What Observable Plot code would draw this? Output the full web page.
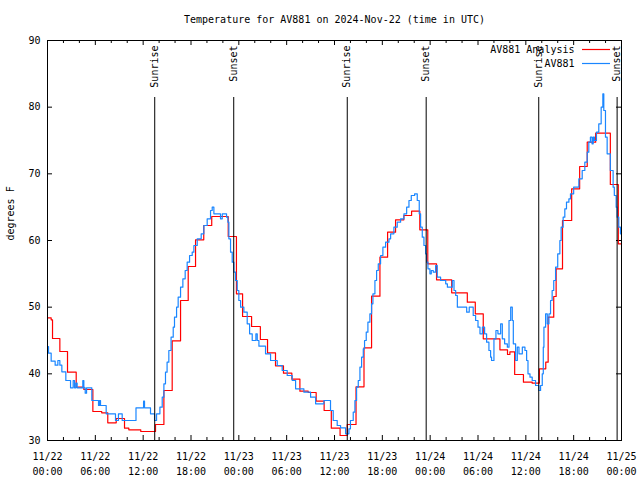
<!DOCTYPE html>
<html><head><meta charset="utf-8">
<script src="https://cdn.jsdelivr.net/npm/d3@7"></script>
<script src="https://cdn.jsdelivr.net/npm/@observablehq/plot@0.6"></script>
<style>body{margin:0;background:#fff}#chart svg{display:block}</style>
</head><body><div id="chart"></div>
<script>
const title = "Temperature for AV881 on 2024-Nov-22 (time in UTC)";
const yLabel = "degrees F";
const seriesNames = ["AV881 Analysis", "AV881"];
const seriesColors = ["#ff0000", "#1a86ff"];
const startUTC = Date.UTC(2024, 10, 22);

// [hours since 11/22 00:00 UTC, temperature F]
const analysisSteps = [
[0,48.4],[0.46,48.1],[0.63,45.3],[1.55,43.35],[2.51,40.25],[3.6,38.0],[4.56,37.65],[5.69,34.35],
[6.8,34.15],[7.56,32.65],[8.62,33.3],[9.66,31.85],[10.2,31.6],[11.7,31.35],[13.55,32.4],[14.6,37.5],
[15.64,44.95],[16.69,51.0],[17.65,56.1],[18.57,60.1],[19.6,62.25],[20.6,63.6],[22.67,60.6],[23.7,52.0],
[24.47,48.6],[25.6,47.1],[26.7,45.15],[27.6,43.15],[28.6,41.2],[29.6,40.1],[30.65,39.2],[31.66,37.4],
[32.7,37.2],[33.7,35.9],[34.7,34.5],[35.6,31.85],[36.7,30.75],[37.6,32.4],[38.7,38.05],[39.7,43.9],
[40.65,51.65],[41.7,57.5],[42.66,61.25],[43.66,63.1],[44.7,63.75],[45.67,64.4],[46.7,61.6],[47.7,56.5],
[48.8,54.1],[50.7,52.15],[52.66,50.75],[53.66,49.0],[54.66,45.25],[56.75,43.6],[57.7,42.9],[58.0,43.3],
[58.6,39.9],[59.7,38.75],[60.8,38.6],[61.7,40.75],[62.5,41.75],[62.8,48.5],[63.5,51.6],[63.8,55.75],
[64.6,63.0],[65.75,67.75],[66.75,71.1],[67.7,74.75],[68.76,76.1],[70.6,68.4],[71.6,59.5],[72,59.5]
];
const observedSteps = [
[0,44.1],[0.13,43.1],[0.46,41.9],[0.96,41.3],[1.3,42.0],[1.55,41.3],[1.8,40.3],[2.3,39.0],[2.89,37.9],
[3.22,39.0],[3.39,37.9],[3.56,38.6],[3.72,37.9],[4.43,39.0],[4.56,37.9],[4.73,37.1],[4.9,37.9],[5.56,36.0],
[6.4,35.25],[6.52,36.0],[6.65,35.25],[7.36,34.0],[8.53,33.0],[8.9,34.0],[9.37,33.0],[11.1,34.9],[12.05,35.9],
[12.17,34.9],[12.92,34.0],[13.43,33.0],[13.68,34.0],[14.1,35.0],[14.39,36.5],[14.6,38.5],[14.8,40.25],
[15.0,41.75],[15.22,43.5],[15.5,45.5],[15.77,47.0],[15.93,48.5],[16.19,50.0],[16.39,51.5],[16.69,53.0],
[16.98,54.25],[17.27,55.5],[17.52,56.75],[17.82,57.75],[18.15,58.25],[18.36,59.25],[18.78,60.25],[19.28,61.0],
[19.61,62.25],[20.03,63.25],[20.45,64.5],[20.66,65.0],[20.87,64.0],[21.7,63.25],[21.92,64.0],[22.46,63.5],
[22.63,62.75],[22.75,60.25],[22.96,58.25],[23.17,56.75],[23.38,55.25],[23.59,54.0],[23.8,52.5],[24.0,51.0],
[24.22,50.0],[24.63,49.25],[25.05,47.5],[25.35,46.0],[25.68,45.0],[26.14,46.0],[26.31,45.0],[26.52,44.15],
[27.35,43.0],[27.98,42.0],[28.82,41.25],[29.44,40.5],[30.07,39.75],[30.7,39.0],[31.12,37.75],[32.16,37.25],
[33.0,36.5],[33.63,35.5],[34.67,36.0],[35.5,34.5],[35.84,33.0],[36.34,32.25],[36.76,31.9],[37.39,31.0],
[37.81,31.75],[38.0,33.0],[38.35,34.25],[38.56,36.0],[38.77,38.0],[38.98,39.0],[39.19,41.0],[39.4,42.5],
[39.61,43.75],[39.77,45.0],[39.98,46.25],[40.19,47.75],[40.44,49.0],[40.65,50.5],[40.82,52.0],[41.07,54.0],
[41.28,55.5],[41.49,56.5],[41.78,57.75],[42.07,59.0],[42.41,59.75],[42.83,60.25],[43.04,61.0],[43.45,62.0],
[43.87,62.75],[44.29,63.25],[44.71,64.0],[45.05,65.0],[45.34,66.0],[45.63,66.75],[46.05,67.0],[46.38,66.0],
[46.63,64.0],[46.8,62.0],[47.01,60.5],[47.22,59.25],[47.43,58.0],[47.55,56.75],[47.72,55.75],[47.97,55.0],
[48.14,55.5],[48.39,55.25],[48.68,56.25],[48.89,54.5],[49.31,54.0],[49.95,53.5],[50.16,53.0],[50.78,54.0],
[50.99,52.5],[51.2,51.75],[51.41,50.0],[52.58,49.25],[52.9,50.0],[53.4,48.75],[53.7,48.0],[54.0,47.0],
[54.25,46.0],[54.55,47.0],[54.83,46.0],[55.08,44.75],[55.37,43.5],[55.58,42.5],[55.7,42.0],[56.0,45.25],
[56.25,46.5],[56.5,46.0],[56.84,47.5],[57.05,45.25],[57.34,44.5],[57.68,44.0],[57.89,48.0],[58.1,50.0],
[58.3,48.0],[58.43,44.5],[58.72,42.0],[58.93,44.0],[59.14,43.0],[59.56,44.0],[59.89,43.5],[60.1,42.0],
[60.27,40.0],[60.52,39.5],[60.8,39.0],[61.22,38.25],[61.64,37.5],[61.85,38.25],[62.06,40.0],[62.19,44.0],
[62.27,47.0],[62.48,49.0],[62.69,47.5],[62.9,49.0],[63.1,51.0],[63.3,52.5],[63.5,54.0],[63.73,56.0],
[64.0,58.0],[64.27,60.0],[64.43,62.0],[64.68,63.5],[64.89,64.75],[65.1,65.75],[65.4,66.25],[65.6,67.0],
[66.0,68.0],[66.65,69.25],[67.07,70.5],[67.4,71.75],[67.7,73.25],[67.9,74.75],[68.1,75.5],[68.3,74.5],
[68.45,75.5],[68.6,75.0],[68.86,76.25],[69.15,77.5],[69.45,80.0],[69.66,82.0],[69.78,79.5],[69.99,75.5],
[70.2,73.0],[70.6,70.5],[70.95,68.0],[71.1,66.75],[71.33,65.0],[71.45,63.5],[71.66,62.0],[71.87,61.0],[72,61.0]
];
const sunHours = [13.45, 23.36, 37.6, 47.5, 61.62, 71.45];
const sunLabels = ["Sunrise", "Sunset", "Sunrise", "Sunset", "Sunrise", "Sunset"];
const majorTickHours = [0, 6, 12, 18, 24, 30, 36, 42, 48, 54, 60, 66, 72];
const minorTickHours = [2, 4, 8, 10, 14, 16, 20, 22, 26, 28, 32, 34, 38, 40, 44, 46, 50, 52, 56, 58, 62, 64, 68, 70];
const yTicks = [30, 40, 50, 60, 70, 80, 90];

const toDate = h => new Date(startUTC + h * 3600e3);
const W = 640, H = 480, mL = 47, mR = 19, mT = 40, mB = 40;
const fw = W - mL - mR, fh = H - mT - mB;
const fmt = d3.utcFormat("%m/%d\n%H:%M");

const analysis = analysisSteps.map(([h, t]) => ({date: toDate(h), temp: t}));
const observed = observedSteps.map(([h, t]) => ({date: toDate(h), temp: t}));
const sun = sunHours.map((h, i) => ({date: toDate(h), label: sunLabels[i]}));
const major = majorTickHours.map(toDate);
const minor = minorTickHours.map(toDate);

const plot = Plot.plot({
  width: W, height: H, marginLeft: mL, marginRight: mR, marginTop: mT, marginBottom: mB,
  style: {fontFamily: "'DejaVu Sans Mono', monospace", fontSize: "10px", background: "white", color: "black"},
  x: {type: "utc", domain: [toDate(0), toDate(72)], axis: null},
  y: {domain: [30, 90], axis: null},
  marks: [
    Plot.ruleX(minor, {x: d => d, insetTop: fh - 3, stroke: "black"}),
    Plot.ruleX(minor, {x: d => d, insetBottom: fh - 3, stroke: "black"}),
    Plot.ruleX(major, {x: d => d, insetTop: fh - 5, stroke: "black"}),
    Plot.ruleX(major, {x: d => d, insetBottom: fh - 5, stroke: "black"}),
    Plot.ruleY(yTicks, {y: d => d, insetRight: fw - 5, stroke: "black"}),
    Plot.ruleY(yTicks, {y: d => d, insetLeft: fw - 5, stroke: "black"}),
    Plot.lineY(analysis, {x: "date", y: "temp", curve: "step-after", stroke: seriesColors[0], strokeWidth: 1.2}),
    Plot.lineY(observed, {x: "date", y: "temp", curve: "step-after", stroke: seriesColors[1], strokeWidth: 1.2}),
    Plot.ruleX(sun, {x: "date", insetTop: 57, stroke: "black"}),
    Plot.text(sun, {x: "date", text: "label", frameAnchor: "top", dy: 5, rotate: -90, textAnchor: "end", lineAnchor: "middle"}),
    Plot.frame({stroke: "black"}),
    Plot.text(major, {x: d => d, text: d => fmt(d), frameAnchor: "bottom", lineAnchor: "top", dy: 9, lineHeight: 1.5}),
    Plot.text(yTicks, {y: d => d, text: d => String(d), frameAnchor: "left", textAnchor: "end", dx: -7}),
    Plot.text([yLabel], {frameAnchor: "left", dx: -37, rotate: -90, lineAnchor: "middle"}),
    Plot.text([title], {frameAnchor: "top", dy: -21, lineAnchor: "middle"}),
    Plot.text([seriesNames[0]], {frameAnchor: "top-right", textAnchor: "end", lineAnchor: "middle", dx: -47, dy: 9}),
    Plot.text([seriesNames[1]], {frameAnchor: "top-right", textAnchor: "end", lineAnchor: "middle", dx: -47, dy: 23})
  ]
});
document.getElementById("chart").appendChild(plot);

// legend line samples
const svg = d3.select(plot);
const lg = svg.append("g");
seriesNames.forEach((n, i) => {
  lg.append("line")
    .attr("x1", W - mR - 39).attr("x2", W - mR - 11)
    .attr("y1", mT + 9 + i * 14 + 0.5).attr("y2", mT + 9 + i * 14 + 0.5)
    .attr("stroke", seriesColors[i]).attr("stroke-width", 1.2);
});
</script>
</body></html>
